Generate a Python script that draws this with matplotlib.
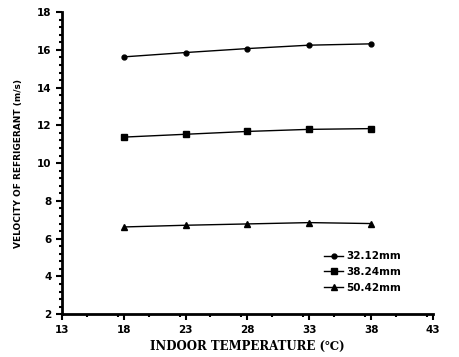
import matplotlib.pyplot as plt
from matplotlib.ticker import MultipleLocator

# data
temps = [18, 23, 28, 33, 38]
v_3212 = [15.63, 15.86, 16.07, 16.25, 16.32]
v_3824 = [11.38, 11.53, 11.68, 11.79, 11.83]
v_5042 = [6.62, 6.71, 6.78, 6.85, 6.80]
labels = ['32.12mm', '38.24mm', '50.42mm']

fig = plt.figure(figsize=(4.6, 3.57), dpi=100)
ax = fig.add_axes([0.135, 0.12, 0.806, 0.846])

ax.plot(temps, v_3212, color='black', lw=1, marker='o', ms=3.5, label=labels[0])
ax.plot(temps, v_3824, color='black', lw=1, marker='s', ms=4, label=labels[1])
ax.plot(temps, v_5042, color='black', lw=1, marker='^', ms=4, label=labels[2])

ax.set_xlim(13, 43)
ax.set_ylim(2, 18)
ax.set_xticks(range(13, 44, 5))
ax.set_yticks(range(2, 19, 2))
ax.xaxis.set_minor_locator(MultipleLocator(2.5))
ax.yaxis.set_minor_locator(MultipleLocator(0.4))
ax.tick_params(which='both', direction='out', width=1.5, labelsize=7.5, colors='black')
ax.tick_params(which='major', length=4)
ax.tick_params(which='minor', length=2.5)
for lab in ax.get_xticklabels() + ax.get_yticklabels():
    lab.set_fontweight('bold')

for s in ['top', 'right']:
    ax.spines[s].set_visible(False)
for s in ['left', 'bottom']:
    ax.spines[s].set_linewidth(2)

ax.set_xlabel('INDOOR TEMPERATURE (\u2103)', family='DejaVu Serif', fontweight='bold', fontsize=8.5)
ax.set_ylabel('VELOCITY OF REFRIGERANT (m/s)', fontweight='bold', fontsize=6.5, labelpad=10)

ax.legend(loc='lower right', bbox_to_anchor=(0.94, 0.04), frameon=False,
          handlelength=1.8, labelspacing=0.55, handletextpad=0.3,
          prop={'weight': 'bold', 'size': 7.5})

plt.savefig('out.png', dpi=100)
